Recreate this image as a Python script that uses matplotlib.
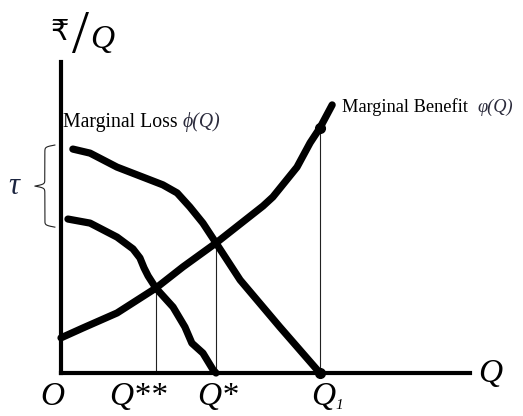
import numpy as np
import matplotlib.pyplot as plt

# quantity axis positions
q_ss = 2.32      # Q**
q_s = 3.79       # Q*
q_1 = 6.33       # Q1

# marginal benefit curve
mb_q = [0, 0.54, 1.37, 2.32, 2.98, 3.79, 4.94, 5.18, 5.77, 6.09, 6.33, 6.63]
mb_v = [1.13, 1.45, 1.93, 2.73, 3.41, 4.18, 5.37, 5.66, 6.62, 7.40, 7.88, 8.62]

# marginal loss (upper curve)
ml_q = [0.29, 0.71, 1.37, 2.00, 2.49, 2.84, 3.15, 3.47, 3.79, 4.38, 5.35, 6.33]
ml_v = [7.20, 7.07, 6.62, 6.30, 6.05, 5.79, 5.34, 4.82, 4.18, 2.99, 1.48, 0]

# marginal loss shifted down by tau
ml2_q = [0.17, 0.71, 1.37, 1.76, 1.93, 2.03, 2.13, 2.32, 2.74, 3.03, 3.20, 3.47, 3.72, 3.79]
ml2_v = [4.95, 4.82, 4.37, 3.99, 3.70, 3.38, 3.12, 2.73, 2.12, 1.48, 0.96, 0.64, 0.10, 0]

serif = ["Liberation Serif", "DejaVu Serif"]

fig = plt.figure(figsize=(5.23, 4.16), dpi=100)
ax = fig.add_axes([61 / 523, 43 / 416, 409 / 523, 311 / 416])
ax.set_xlim(0, 10)
ax.set_ylim(0, 10)
for s in ["top", "right"]:
    ax.spines[s].set_visible(False)
for s in ["left", "bottom"]:
    ax.spines[s].set_linewidth(3)
    ax.spines[s].set_color("black")
ax.set_xticks([])
ax.set_yticks([])

curve = dict(color="black", lw=5.2, solid_capstyle="round",
             solid_joinstyle="round", clip_on=False, zorder=3)
ax.plot(mb_q, mb_v, **curve)
ax.plot(ml_q, ml_v, **curve)
ax.plot(ml2_q, ml2_v, **curve)

# drop lines from the intersections
guide = dict(color="#222222", lw=0.8, zorder=2)
ax.plot([q_ss, q_ss], [0, np.interp(q_ss, mb_q, mb_v)], **guide)
ax.plot([q_s, q_s], [0, np.interp(q_s, mb_q, mb_v)], **guide)
ax.plot([q_1, q_1], [0, np.interp(q_1, mb_q, mb_v)], **guide)

ax.plot([q_1, q_1], [0, np.interp(q_1, mb_q, mb_v)], "o", color="black",
        ms=7, clip_on=False, zorder=4)

# brace showing tau between the two loss curves
top, bot = ml_v[0] + 0.13, ml2_v[0] - 0.26
half = np.linspace(0, 0.5, 200)
beta = 90
v = 1 / (1 + np.exp(-beta * half)) + 1 / (1 + np.exp(-beta * (half - 0.5)))
v = np.concatenate([v, v[-2::-1]]) - 0.5
t = np.linspace(0, 1, len(v))
bx = -0.15 - 0.49 * v
by = top + (bot - top) * t
ax.plot(bx, by, color="#222222", lw=0.8, clip_on=False)
ax.text(-1.15, 6.01, "τ", fontsize=22, style="italic", family=serif,
        color="#1c2540", ha="center", va="center")

# axis labels
ax.text(-0.03, 10.98, "₹", fontsize=21, family=["DejaVu Sans", "Noto Sans"],
        ha="center", va="center", clip_on=False)
ax.text(0.47, 10.8, "/", fontsize=44, family=serif, ha="center",
        va="center", clip_on=False)
ax.text(1.0, 10.72, "Q", fontsize=24, style="italic", family=serif,
        ha="center", va="center", clip_on=False)
ax.text(10.49, -0.02, "Q", fontsize=24, style="italic", family=serif,
        ha="center", va="center", clip_on=False)

ax.text(-0.22, -0.77, "O", fontsize=24, style="italic", family=serif,
        ha="center", va="center", clip_on=False)
ax.text(q_ss - 0.44, -0.77, "Q**", fontsize=24, style="italic", family=serif,
        ha="center", va="center", clip_on=False)
ax.text(q_s + 0.05, -0.77, "Q*", fontsize=24, style="italic", family=serif,
        ha="center", va="center", clip_on=False)
ax.text(q_1 + 0.08, -0.77, "Q", fontsize=24, style="italic", family=serif,
        ha="center", va="center", clip_on=False)
ax.text(q_1 + 0.47, -1.05, "1", fontsize=11, style="italic", family=serif,
        ha="center", va="center", clip_on=False)

# curve labels
t1 = ax.text(0.05, 8.04, "Marginal Loss ", fontsize=14.2, family=serif,
             ha="left", va="center")
ax.annotate("ϕ(Q)", xy=(1, 0), xycoords=t1, fontsize=14.2, style="italic",
            family=serif, color="#2b2b3c", ha="left", va="bottom")
t2 = ax.text(6.87, 8.55, "Marginal Benefit", fontsize=13.2, family=serif,
             ha="left", va="center", clip_on=False)
ax.annotate("φ(Q)", xy=(1, 0), xycoords=t2, xytext=(7, 0),
            textcoords="offset points", fontsize=13.2, style="italic",
            family=serif, color="#2b2b3c", ha="left", va="bottom",
            annotation_clip=False)

fig.savefig("out.png", dpi=100)
